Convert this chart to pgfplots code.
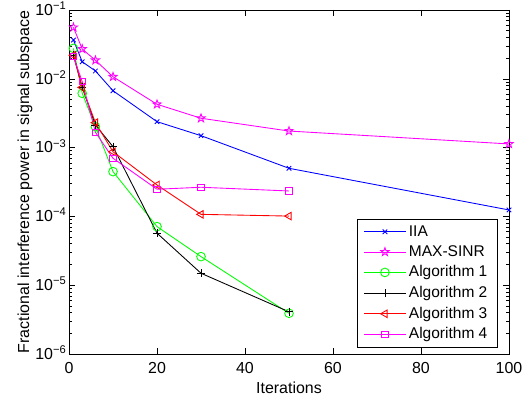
\documentclass[border=0pt]{standalone}
\usepackage{fontspec}
\setmainfont{Liberation Sans}
\usepackage{pgfplots}
\pgfplotsset{compat=1.18}
\usetikzlibrary{plotmarks}
\pgfdeclareplotmark{pentagram}{%
  \pgfpathmoveto{\pgfpointpolar{90}{\pgfplotmarksize}}%
  \pgfpathlineto{\pgfpointpolar{126}{0.4\pgfplotmarksize}}%
  \pgfpathlineto{\pgfpointpolar{162}{\pgfplotmarksize}}%
  \pgfpathlineto{\pgfpointpolar{198}{0.4\pgfplotmarksize}}%
  \pgfpathlineto{\pgfpointpolar{234}{\pgfplotmarksize}}%
  \pgfpathlineto{\pgfpointpolar{270}{0.4\pgfplotmarksize}}%
  \pgfpathlineto{\pgfpointpolar{306}{\pgfplotmarksize}}%
  \pgfpathlineto{\pgfpointpolar{342}{0.4\pgfplotmarksize}}%
  \pgfpathlineto{\pgfpointpolar{18}{\pgfplotmarksize}}%
  \pgfpathlineto{\pgfpointpolar{54}{0.4\pgfplotmarksize}}%
  \pgfpathclose
  \pgfusepathqstroke}
\definecolor{mblue}{rgb}{0,0,1}
\definecolor{mmag}{rgb}{1,0,1}
\definecolor{mgreen}{rgb}{0,1,0}
\definecolor{mred}{rgb}{1,0,0}
\begin{document}
\begin{tikzpicture}
\begin{axis}[
  scale only axis,
  width=303.4pt, height=237.2pt,
  xmin=0, xmax=100, ymin=1e-6, ymax=1e-1,
  ymode=log,
  xtick={0,20,40,60,80,100},
  ytick={1e-6,1e-5,1e-4,1e-3,1e-2,1e-1},
  yticklabels={10\textsuperscript{−6},10\textsuperscript{−5},10\textsuperscript{−4},10\textsuperscript{−3},10\textsuperscript{−2},10\textsuperscript{−1}},
  /pgf/number format/assume math mode=true,
  tick label style={font=\fontsize{11}{13}\selectfont},
  xticklabel style={yshift=-2.5pt},
  yticklabel style={xshift=1.8pt, yshift=1pt},
  label style={font=\fontsize{11}{13}\selectfont},
  xlabel={Iterations},
  ylabel={Fractional interference power in signal subspace},
  xlabel style={at={(axis description cs:0.5,-0.0987)}, anchor=center},
  ylabel style={at={(axis description cs:-0.1,0.5)}, anchor=center},
  tick style={black, line width=0.4pt},
  major tick length=4pt, minor tick length=2.2pt,
  axis line style={line width=0.5pt},
  every axis plot/.append style={line width=0.6pt, mark size=2.6pt},
  legend style={at={(0.973,0.0174)}, anchor=south east, draw=black, fill=white,
    font=\fontsize{10.7}{12.5}\selectfont, row sep=1pt, inner xsep=4.5pt, inner ysep=2.5pt},
  legend cell align=left,
  legend image code/.code={\draw[mark repeat=2,mark phase=2] plot coordinates {(0cm,0cm) (0.5cm,0cm) (1cm,0cm)};},
]
\addplot[color=mblue, mark=x, mark size=2.2pt] coordinates {
(1,0.0366) (3,0.0177) (6,0.0130) (10,0.0067) (20,0.00238) (30,0.00149) (50,0.0005) (100,1.24e-4)};
\addlegendentry{IIA}
\addplot[color=mmag, mark=pentagram, mark size=3pt] coordinates {
(1,0.056) (3,0.0271) (6,0.0186) (10,0.0107) (20,0.00426) (30,0.00267) (50,0.00174) (100,0.00113)};
\addlegendentry{MAX-SINR}
\addplot[color=mgreen, mark=o, mark size=3pt] coordinates {
(1,0.0277) (3,0.00615) (6,0.00201) (10,4.47e-4) (20,7.1e-5) (30,2.6e-5) (50,3.9e-6)};
\addlegendentry{Algorithm 1}
\addplot[color=black, mark=+, mark size=2.8pt] coordinates {
(1,0.0222) (3,0.0075) (6,0.00213) (10,0.00103) (20,5.7e-5) (30,1.49e-5) (50,4.1e-6)};
\addlegendentry{Algorithm 2}
\addplot[color=mred, mark=triangle, mark options={rotate=90}, mark size=3pt] coordinates {
(1,0.022) (3,0.0075) (6,0.0023) (10,8.7e-4) (20,2.86e-4) (30,1.07e-4) (50,1.01e-4)};
\addlegendentry{Algorithm 3}
\addplot[color=mmag, mark=square, mark size=2.2pt] coordinates {
(1,0.021) (3,0.0091) (6,0.00167) (10,7.0e-4) (20,2.48e-4) (30,2.65e-4) (50,2.34e-4)};
\addlegendentry{Algorithm 4}
\end{axis}
\pgfresetboundingbox
\path ([shift={(-47.6pt,-33.1pt)}]current axis.south west) rectangle ([shift={(15.2pt,6.9pt)}]current axis.north east);
\end{tikzpicture}
\end{document}
